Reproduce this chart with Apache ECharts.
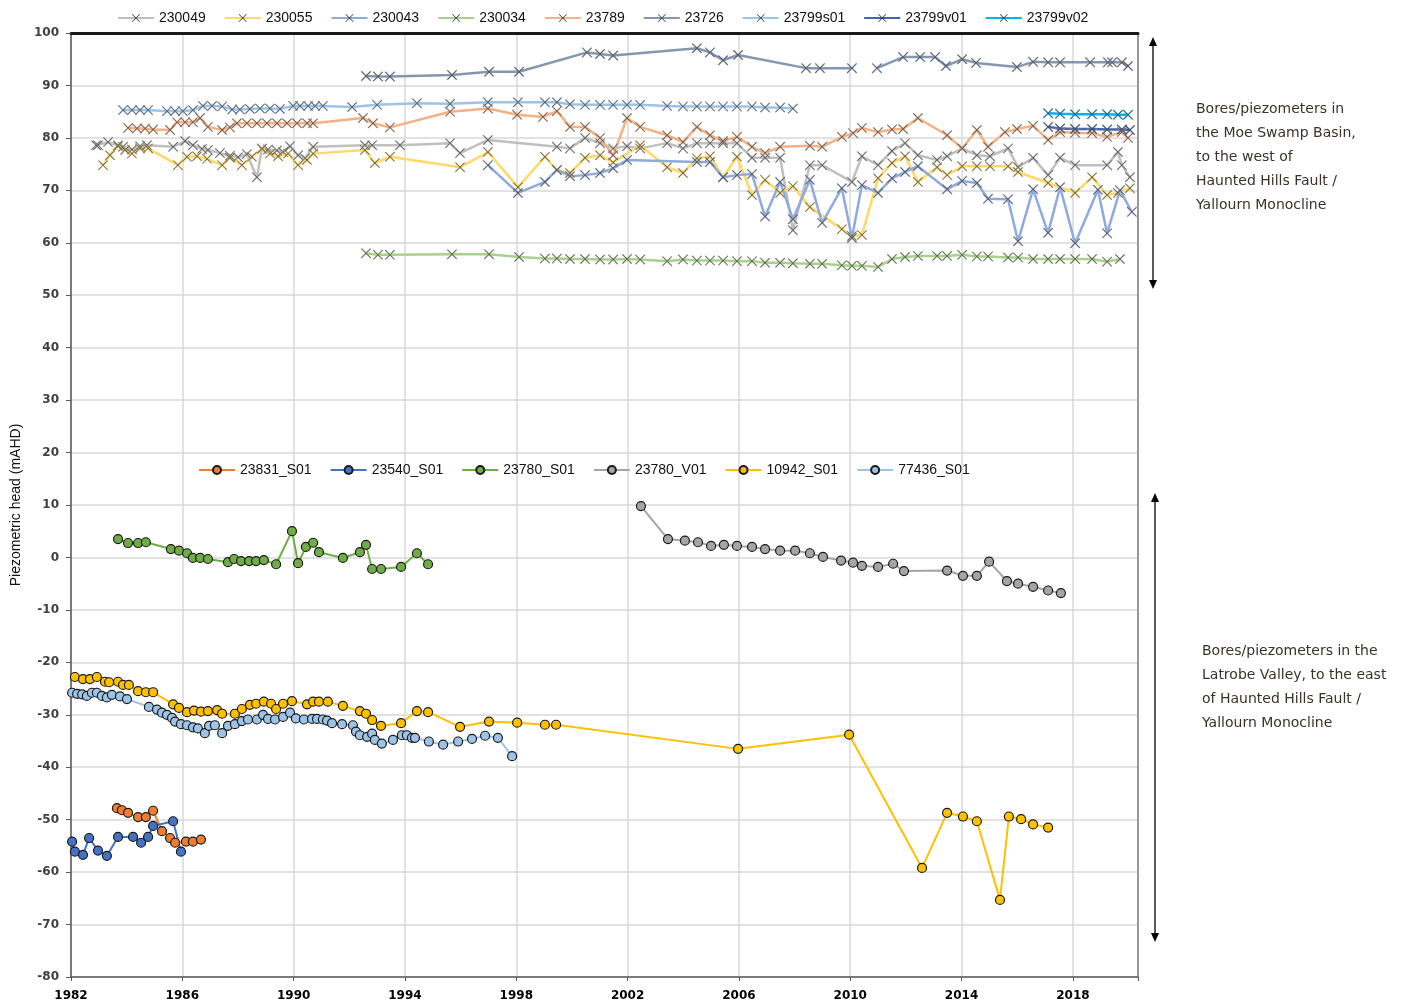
<!DOCTYPE html>
<html>
<head>
<meta charset="utf-8">
<title>Piezometric head</title>
<script src="https://cdn.jsdelivr.net/npm/echarts@6/dist/echarts.min.js"></script>
<style>
  html, body { margin: 0; padding: 0; background: #fff; }
  #chart { width: 1426px; height: 1008px; }
</style>
</head>
<body>
<div id="chart"></div>
<script>
// [year, piezometric head mAHD]
// Moe Swamp Basin (west)
const s230049 = [[1982.90,78.6],[1982.97,78.6],[1983.33,79.2],[1983.69,78.6],[1983.87,78.3],[1984.19,77.8],[1984.48,78.4],[1984.73,78.6],[1985.67,78.3],[1986.10,79.4],[1986.38,78.6],[1986.71,77.9],[1986.92,77.7],[1987.35,77.1],[1987.71,76.6],[1988.00,76.3],[1988.32,76.9],[1988.68,72.5],[1988.86,78.0],[1989.08,77.8],[1989.40,77.6],[1989.62,77.3],[1989.87,78.4],[1990.16,76.7],[1990.41,76.1],[1990.70,78.3],[1992.56,78.6],[1992.82,78.6],[1993.82,78.6],[1995.62,79.0],[1995.98,77.1],[1996.98,79.6],[1999.46,78.3],[1999.93,78.0],[2000.47,80.0],[2001.01,79.0],[2001.48,78.0],[2001.98,78.4],[2002.45,78.0],[2003.42,79.0],[2003.99,78.0],[2004.49,79.0],[2004.96,79.0],[2005.43,79.0],[2005.93,79.0],[2006.47,76.2],[2006.94,76.2],[2007.48,76.2],[2007.94,62.4],[2008.55,74.8],[2008.99,74.8],[2010.06,71.6],[2010.42,76.5],[2011.00,74.8],[2011.50,77.5],[2011.97,79.0],[2012.43,76.7],[2013.12,75.8],[2013.48,76.5],[2014.02,78.0],[2014.55,76.7],[2015.02,76.5],[2015.67,78.0],[2016.03,74.4],[2016.57,76.2],[2017.11,72.9],[2017.54,76.2],[2018.08,74.8],[2019.23,74.8],[2019.62,77.3],[2019.76,74.8],[2020.05,72.5]];
const s230055 = [[1983.15,74.8],[1983.40,76.7],[1983.69,78.4],[1983.94,77.7],[1984.19,77.0],[1984.48,78.0],[1984.77,78.0],[1985.84,74.8],[1986.17,76.4],[1986.53,76.5],[1986.89,76.0],[1987.43,74.8],[1987.71,76.2],[1988.14,74.8],[1988.50,76.4],[1988.86,77.9],[1989.15,77.0],[1989.44,76.5],[1989.80,77.0],[1990.16,74.8],[1990.48,75.8],[1990.70,77.0],[1992.56,77.7],[1992.92,75.2],[1993.46,76.4],[1995.98,74.4],[1996.98,77.3],[1998.06,70.6],[1999.03,76.4],[1999.46,73.9],[1999.93,73.3],[2000.47,76.2],[2001.01,76.7],[2001.48,75.3],[2002.45,78.6],[2003.42,74.4],[2003.99,73.3],[2004.49,76.1],[2004.96,76.5],[2005.43,72.5],[2005.93,76.4],[2006.47,69.1],[2006.94,72.0],[2007.48,69.5],[2007.94,70.8],[2008.55,66.8],[2009.70,62.6],[2010.06,61.3],[2010.42,61.5],[2011.00,72.3],[2011.50,75.2],[2011.97,76.5],[2012.43,71.6],[2013.12,74.4],[2013.48,72.9],[2014.02,74.6],[2014.55,74.6],[2015.02,74.6],[2015.67,74.6],[2016.03,73.5],[2017.11,71.4],[2018.08,69.5],[2018.69,72.5],[2019.23,69.1],[2019.62,69.5],[2020.05,70.4]];
const s230043 = [[1996.98,74.8],[1998.06,69.5],[1999.03,71.6],[1999.46,73.9],[1999.93,72.7],[2000.47,72.9],[2001.01,73.3],[2001.48,74.2],[2001.98,75.8],[2004.49,75.4],[2004.96,75.4],[2005.43,72.5],[2005.93,72.9],[2006.47,73.1],[2006.94,65.0],[2007.48,71.6],[2007.94,64.5],[2008.55,72.0],[2008.99,63.8],[2009.70,70.4],[2010.06,60.9],[2010.42,71.0],[2011.00,69.5],[2011.50,72.3],[2011.97,73.5],[2012.43,74.6],[2013.48,70.2],[2014.02,71.8],[2014.55,71.4],[2014.95,68.4],[2015.67,68.3],[2016.03,60.3],[2016.57,70.2],[2017.11,61.9],[2017.54,70.6],[2018.08,59.9],[2018.90,70.1],[2019.23,61.8],[2019.69,70.0],[2020.12,65.9]];
const s230034 = [[1992.60,58.0],[1993.03,57.7],[1993.46,57.7],[1995.69,57.8],[1997.02,57.8],[1998.10,57.3],[1999.03,57.0],[1999.46,57.0],[1999.93,56.9],[2000.47,56.9],[2001.01,56.8],[2001.48,56.8],[2001.98,56.9],[2002.45,56.8],[2003.42,56.5],[2003.99,56.8],[2004.49,56.6],[2004.96,56.6],[2005.43,56.6],[2005.93,56.5],[2006.47,56.5],[2006.94,56.2],[2007.48,56.2],[2007.94,56.1],[2008.55,56.0],[2008.99,56.0],[2009.70,55.7],[2010.06,55.6],[2010.42,55.6],[2011.00,55.4],[2011.50,56.9],[2011.97,57.3],[2012.43,57.5],[2013.12,57.5],[2013.48,57.5],[2014.02,57.7],[2014.55,57.4],[2014.95,57.4],[2015.67,57.2],[2016.03,57.2],[2016.57,56.9],[2017.11,56.9],[2017.54,56.9],[2018.08,56.9],[2018.69,56.9],[2019.23,56.4],[2019.69,56.9]];
const s23789 = [[1984.05,81.9],[1984.37,81.8],[1984.66,81.8],[1984.95,81.6],[1985.56,81.5],[1985.81,83.0],[1986.10,83.0],[1986.38,83.0],[1986.64,83.8],[1986.92,82.1],[1987.43,81.5],[1987.71,82.0],[1987.96,82.8],[1988.32,82.8],[1988.68,82.8],[1989.04,82.8],[1989.40,82.8],[1989.76,82.8],[1990.12,82.8],[1990.48,82.8],[1990.70,82.8],[1992.49,83.8],[1992.85,82.8],[1993.46,82.0],[1995.62,85.0],[1996.98,85.6],[1998.03,84.4],[1998.96,84.0],[1999.46,85.1],[1999.93,82.1],[2000.47,82.1],[2001.01,80.0],[2001.48,76.7],[2001.98,83.8],[2002.45,82.1],[2003.42,80.5],[2003.99,79.2],[2004.49,82.1],[2004.96,80.5],[2005.43,79.4],[2005.93,80.2],[2006.47,78.3],[2006.94,77.1],[2007.48,78.3],[2008.55,78.5],[2008.99,78.3],[2009.70,80.2],[2010.10,80.9],[2010.42,81.9],[2011.00,81.1],[2011.50,81.6],[2011.90,81.7],[2012.43,83.8],[2013.48,80.5],[2014.02,78.0],[2014.55,81.5],[2014.95,78.3],[2015.56,81.1],[2015.99,81.7],[2016.57,82.3],[2017.11,79.6],[2017.54,81.1],[2018.08,81.0],[2018.69,80.9],[2019.23,80.2],[2019.76,81.1],[2019.98,80.0]];
const s23726 = [[1992.60,91.8],[1993.03,91.7],[1993.46,91.7],[1995.69,92.0],[1997.02,92.6],[1998.10,92.6],[2000.54,96.3],[2001.01,96.0],[2001.48,95.7],[2004.49,97.1],[2004.96,96.3],[2005.43,94.8],[2005.97,95.8],[2008.41,93.3],[2008.91,93.3],[2010.06,93.3],[2010.5,null],[2010.96,93.3],[2011.90,95.4],[2012.51,95.4],[2013.05,95.4],[2013.44,93.7],[2014.02,95.0],[2014.52,94.3],[2015.99,93.5],[2016.57,94.5],[2017.11,94.4],[2017.54,94.4],[2018.62,94.4],[2019.26,94.4],[2019.41,94.4],[2019.76,94.4],[2019.98,93.7]];
const s23799s01 = [[1983.87,85.3],[1984.19,85.3],[1984.48,85.3],[1984.77,85.3],[1985.45,85.1],[1985.74,85.1],[1986.02,85.1],[1986.38,85.3],[1986.74,86.1],[1987.07,86.1],[1987.43,86.0],[1987.79,85.4],[1988.07,85.4],[1988.43,85.5],[1988.79,85.6],[1989.15,85.6],[1989.51,85.5],[1989.98,86.1],[1990.23,86.1],[1990.52,86.1],[1990.77,86.1],[1991.05,86.1],[1992.10,85.9],[1993.00,86.3],[1994.43,86.6],[1995.62,86.5],[1996.98,86.8],[1998.06,86.8],[1999.03,86.8],[1999.46,86.8],[1999.93,86.4],[2000.47,86.3],[2001.01,86.3],[2001.48,86.3],[2001.98,86.3],[2002.45,86.3],[2003.42,86.1],[2003.99,86.0],[2004.49,86.0],[2004.96,86.0],[2005.43,86.0],[2005.93,86.0],[2006.47,86.0],[2006.94,85.8],[2007.48,85.8],[2007.94,85.6]];
const s23799v01 = [[2017.11,82.1],[2017.54,81.8],[2018.08,81.7],[2018.69,81.7],[2019.23,81.6],[2019.76,81.6],[2020.05,81.5]];
const s23799v02 = [[2017.11,84.7],[2017.54,84.6],[2018.08,84.5],[2018.69,84.5],[2019.23,84.5],[2019.62,84.4],[2019.98,84.4]];

// Latrobe Valley (east)
const s23831 = [[1983.65,-47.8],[1983.83,-48.2],[1984.05,-48.7],[1984.41,-49.5],[1984.69,-49.5],[1984.95,-48.3],[1985.27,-52.2],[1985.56,-53.5],[1985.74,-54.4],[1986.13,-54.2],[1986.38,-54.2],[1986.67,-53.8]];
const s23540 = [[1982.04,-54.2],[1982.14,-56.1],[1982.43,-56.7],[1982.65,-53.5],[1982.97,-55.9],[1983.29,-56.9],[1983.69,-53.3],[1984.23,-53.3],[1984.52,-54.4],[1984.77,-53.3],[1984.95,-51.2],[1985.67,-50.3],[1985.95,-56.1]];
const s23780s = [[1983.69,3.5],[1984.05,2.75],[1984.41,2.75],[1984.69,2.9],[1985.59,1.6],[1985.88,1.3],[1986.17,0.8],[1986.38,-0.1],[1986.64,-0.1],[1986.92,-0.3],[1987.64,-0.9],[1987.86,-0.3],[1988.11,-0.7],[1988.40,-0.7],[1988.65,-0.7],[1988.93,-0.5],[1989.37,-1.3],[1989.94,5.0],[1990.16,-1.1],[1990.44,2.0],[1990.70,2.8],[1990.91,1.0],[1991.77,-0.1],[1992.38,1.0],[1992.60,2.4],[1992.82,-2.2],[1993.14,-2.2],[1993.86,-1.8],[1994.43,0.8],[1994.83,-1.3]];
const s23780v = [[2002.48,9.8],[2003.45,3.5],[2004.06,3.2],[2004.53,2.9],[2005.00,2.2],[2005.46,2.4],[2005.93,2.2],[2006.47,2.0],[2006.94,1.6],[2007.48,1.3],[2008.02,1.3],[2008.55,0.8],[2009.02,0.1],[2009.67,-0.6],[2010.10,-1.0],[2010.42,-1.6],[2011.00,-1.8],[2011.54,-1.2],[2011.93,-2.6],[2013.48,-2.5],[2014.05,-3.5],[2014.55,-3.5],[2014.99,-0.8],[2015.63,-4.5],[2016.03,-5.0],[2016.57,-5.6],[2017.11,-6.3],[2017.57,-6.8]];
const s10942 = [[1982.14,-22.8],[1982.43,-23.2],[1982.68,-23.2],[1982.93,-22.8],[1983.22,-23.7],[1983.37,-23.8],[1983.69,-23.7],[1983.87,-24.3],[1984.08,-24.3],[1984.41,-25.5],[1984.69,-25.7],[1984.95,-25.7],[1985.67,-28.0],[1985.88,-28.7],[1986.17,-29.5],[1986.42,-29.2],[1986.67,-29.4],[1986.92,-29.3],[1987.25,-29.1],[1987.43,-29.8],[1987.89,-29.8],[1988.14,-28.9],[1988.43,-28.1],[1988.65,-27.9],[1988.93,-27.5],[1989.19,-27.9],[1989.37,-28.9],[1989.62,-27.9],[1989.94,-27.4],[1990.48,-28.0],[1990.70,-27.5],[1990.91,-27.5],[1991.23,-27.5],[1991.77,-28.3],[1992.38,-29.3],[1992.60,-29.8],[1992.82,-31.0],[1993.14,-32.1],[1993.86,-31.6],[1994.43,-29.3],[1994.83,-29.5],[1995.98,-32.3],[1997.02,-31.3],[1998.03,-31.5],[1999.03,-31.9],[1999.43,-31.9],[2005.97,-36.5],[2009.96,-33.8],[2012.58,-59.2],[2013.48,-48.7],[2014.05,-49.4],[2014.55,-50.3],[2015.38,-65.3],[2015.70,-49.4],[2016.14,-49.9],[2016.57,-50.9],[2017.11,-51.5]];
const s77436 = [[1982.04,-25.8],[1982.22,-26.0],[1982.40,-26.1],[1982.57,-26.4],[1982.75,-25.8],[1982.93,-25.8],[1983.11,-26.4],[1983.29,-26.7],[1983.47,-26.2],[1983.76,-26.5],[1984.01,-27.0],[1984.80,-28.5],[1985.09,-29.0],[1985.27,-29.6],[1985.45,-30.0],[1985.63,-30.6],[1985.74,-31.3],[1985.95,-31.8],[1986.17,-32.0],[1986.38,-32.4],[1986.56,-32.6],[1986.81,-33.5],[1986.96,-32.1],[1987.17,-32.0],[1987.43,-33.5],[1987.64,-32.1],[1987.89,-31.8],[1988.14,-31.2],[1988.36,-30.9],[1988.68,-30.9],[1988.90,-30.0],[1989.08,-30.8],[1989.33,-30.9],[1989.62,-30.4],[1989.87,-29.6],[1990.08,-30.7],[1990.37,-30.9],[1990.66,-30.8],[1990.84,-30.8],[1991.05,-30.9],[1991.20,-31.1],[1991.38,-31.6],[1991.74,-31.8],[1992.13,-32.0],[1992.24,-33.2],[1992.38,-33.9],[1992.64,-34.2],[1992.82,-33.6],[1992.92,-34.8],[1993.17,-35.5],[1993.57,-34.8],[1993.89,-33.9],[1994.07,-33.9],[1994.25,-34.4],[1994.36,-34.4],[1994.86,-35.1],[1995.37,-35.7],[1995.91,-35.1],[1996.41,-34.6],[1996.88,-34.0],[1997.34,-34.4],[1997.85,-37.9]];

const westBores = [
  ['230049', s230049, '#BFBFBF'],
  ['230055', s230055, '#FFD966'],
  ['230043', s230043, '#8FAADC'],
  ['230034', s230034, '#A9D18E'],
  ['23789', s23789, '#F4B183'],
  ['23726', s23726, '#8497B0'],
  ['23799s01', s23799s01, '#9DC3E6'],
  ['23799v01', s23799v01, '#3E64B4'],
  ['23799v02', s23799v02, '#00B0F0']
];
const eastBores = [
  ['23831_S01', s23831, '#ED7D31'],
  ['23540_S01', s23540, '#4472C4'],
  ['23780_S01', s23780s, '#70AD47'],
  ['23780_V01', s23780v, '#A5A5A5'],
  ['10942_S01', s10942, '#FFC000'],
  ['77436_S01', s77436, '#9DC3E6']
];

const xMin = 1982, xMax = 2020.34, xStep = 4;
const yMin = -80, yMax = 100, yStep = 10;

// thin "x" marker like the spreadsheet one
const crossMark = 'path://M0.7,0 L5,4.3 L9.3,0 L10,0.7 L5.7,5 L10,9.3 L9.3,10 L5,5.7 L0.7,10 L0,9.3 L4.3,5 L0,0.7 Z';

let series = [];
westBores.forEach(function (b) {
  series.push({
    name: b[0], type: 'line', data: b[1],
    symbol: crossMark, symbolSize: 10,
    lineStyle: { color: b[2], width: 2.5 },
    itemStyle: { color: '#4a4a4a', borderColor: b[2], borderWidth: 0.4 },
    connectNulls: false
  });
});
eastBores.forEach(function (b) {
  series.push({
    name: b[0], type: 'line', data: b[1],
    symbol: 'circle', symbolSize: 9,
    lineStyle: { color: b[2], width: 2 },
    itemStyle: { color: b[2], borderColor: '#1a1a1a', borderWidth: 1.2 }
  });
});

function arrow(x, y1, y2) {
  return [
    { type: 'line', shape: { x1: x, y1: y1 + 4, x2: x, y2: y2 - 4 }, style: { stroke: '#000', lineWidth: 1.3 } },
    { type: 'polygon', shape: { points: [[x, y1], [x - 4, y1 + 9], [x + 4, y1 + 9]] }, style: { fill: '#000' } },
    { type: 'polygon', shape: { points: [[x, y2], [x - 4, y2 - 9], [x + 4, y2 - 9]] }, style: { fill: '#000' } }
  ];
}

const noteStyle = { fill: '#3a3228', font: '14px "DejaVu Sans"', lineHeight: 24 };

let chart = echarts.init(document.getElementById('chart'));
chart.setOption({
  animation: false,
  textStyle: { fontFamily: 'Liberation Sans' },
  grid: { left: 71, right: 288, top: 33, bottom: 31 },
  legend: [
    {
      data: westBores.map(function (b) { return b[0]; }),
      left: 112, top: 6, itemWidth: 36, itemHeight: 10, itemGap: 18,
      itemStyle: { color: '#3a3a3a', borderWidth: 0 },
      textStyle: { fontSize: 14, color: '#111' }
    },
    {
      data: eastBores.map(function (b) { return b[0]; }),
      left: 193, top: 458, itemWidth: 36, itemHeight: 10, itemGap: 18,
      textStyle: { fontSize: 14, color: '#111' }
    }
  ],
  xAxis: [
    {
      type: 'value', min: xMin, max: xMax, interval: xStep,
      axisLine: { onZero: false, lineStyle: { color: '#595959', width: 1.5 } },
      axisTick: { show: true, length: 4, lineStyle: { color: '#595959' } },
      axisLabel: {
        color: '#000', fontWeight: 'bold', fontSize: 12, fontFamily: 'DejaVu Sans', margin: 13,
        formatter: function (v) { return (v - xMin) % xStep === 0 ? String(v) : ''; }
      },
      splitLine: { show: true, lineStyle: { color: '#D9D9D9', width: 1.5 } }
    },
    {
      type: 'value', position: 'top', min: xMin, max: xMax,
      axisLine: { onZero: false, lineStyle: { color: '#1a1a1a', width: 3 } },
      axisTick: { show: false }, axisLabel: { show: false }, splitLine: { show: false }
    }
  ],
  yAxis: [
    {
      type: 'value', min: yMin, max: yMax, interval: yStep,
      name: 'Piezometric head (mAHD)', nameLocation: 'middle', nameGap: 48,
      nameTextStyle: { fontSize: 14, color: '#111' },
      axisLine: { show: true, onZero: false, lineStyle: { color: '#595959', width: 1.5 } },
      axisTick: { show: true, length: 5, lineStyle: { color: '#595959' } },
      axisLabel: { color: '#404040', fontWeight: 'bold', fontSize: 12, fontFamily: 'DejaVu Sans', margin: 12 },
      splitLine: { show: true, lineStyle: { color: '#D9D9D9', width: 1.5 } }
    },
    {
      type: 'value', position: 'right', min: yMin, max: yMax,
      axisLine: { show: true, onZero: false, lineStyle: { color: '#7f7f7f', width: 1.5 } },
      axisTick: { show: false }, axisLabel: { show: false }, splitLine: { show: false }
    }
  ],
  graphic: arrow(1153, 37, 289).concat(arrow(1155, 493, 942)).concat([
    { type: 'text', left: 1196, top: 97, style: Object.assign({ text: 'Bores/piezometers in\nthe Moe Swamp Basin,\nto the west of\nHaunted Hills Fault /\nYallourn Monocline' }, noteStyle) },
    { type: 'text', left: 1202, top: 639, style: Object.assign({ text: 'Bores/piezometers in the\nLatrobe Valley, to the east\nof Haunted Hills Fault /\nYallourn Monocline' }, noteStyle) }
  ]),
  series: series
});

window.onresize = function () {
  chart.resize();
};
</script>
</body>
</html>
